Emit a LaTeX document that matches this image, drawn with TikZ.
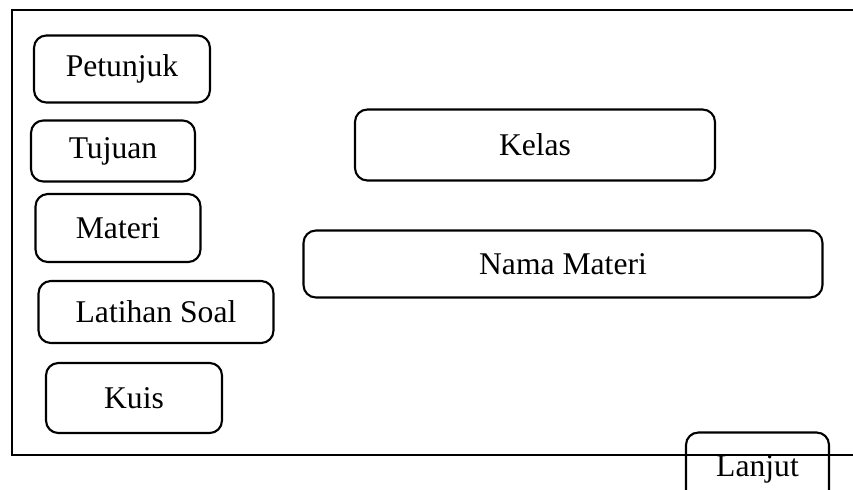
\documentclass[tikz,border=0pt]{standalone}
\usepackage{fontspec}
\setmainfont{Liberation Serif}
\usetikzlibrary{positioning}
\definecolor{Ink}{HTML}{000000}

\begin{document}
\begin{tikzpicture}[x=0.02cm, y=-0.02cm,
    menubox/.style={draw=Ink, line width=1.2pt, rounded corners=7pt, inner sep=0pt, font=\fontsize{18}{21}\selectfont}]
    \clip (0,0) rectangle (853,490);
    \fill[white] (0,0) rectangle (853,490);
    % frame of the screen
    \draw[Ink, line width=1.5pt] (853,10) -- (12,10) -- (12,455) -- (853,455);
    % menu on the left
    \node[menubox, minimum width=3.52cm, minimum height=1.34cm] (petunjuk) at (122,69) {Petunjuk};
    \node[menubox, minimum width=3.28cm, minimum height=1.22cm] (tujuan) at (113,151) {Tujuan};
    \node[menubox, minimum width=3.30cm, minimum height=1.36cm] (materi) at (118,228) {Materi};
    \node[menubox, minimum width=4.70cm, minimum height=1.24cm] (latihan) at (156,312) {Latihan Soal};
    \node[menubox, minimum width=3.52cm, minimum height=1.40cm] (kuis) at (134,398) {Kuis};
    % content
    \node[menubox, minimum width=7.20cm, minimum height=1.42cm] (kelas) at (535,145) {Kelas};
    \node[menubox, minimum width=10.38cm, minimum height=1.34cm] (nama) at (563,264) {Nama Materi};
    \node[menubox, minimum width=2.86cm, minimum height=1.90cm] (lanjut) at (757.5,480) {};
    \node[font=\fontsize{18}{21}\selectfont] (lanjuttxt) at (757.5,469) {Lanjut};
\end{tikzpicture}
\end{document}
